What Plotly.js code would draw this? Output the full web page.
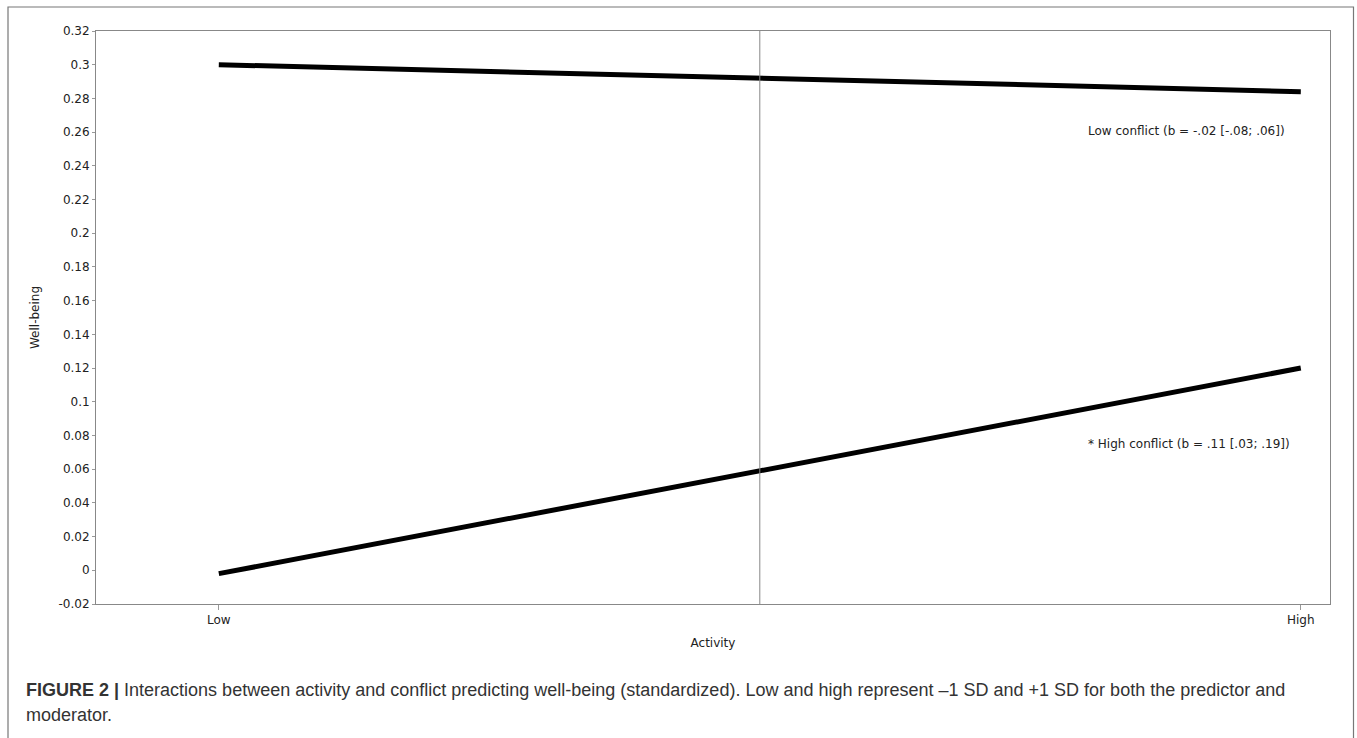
<!DOCTYPE html>
<html>
<head>
<meta charset="utf-8">
<script src="https://cdn.plot.ly/plotly-3.0.1.min.js"></script>
<style>
html,body{margin:0;padding:0;background:#fff;}
#chart{width:1357px;height:738px;}
</style>
</head>
<body>
<div id="chart"></div>
<script>
// Data
const activityLabels = ['Low', 'High'];
const activityX = [-1, 1];
const lowConflict = [0.300, 0.284];
const highConflict = [-0.002, 0.120];
const yTickVals = [-0.02, 0, 0.02, 0.04, 0.06, 0.08, 0.1, 0.12, 0.14, 0.16, 0.18, 0.2, 0.22, 0.24, 0.26, 0.28, 0.3, 0.32];
const yTickText = ['-0.02', '0', '0.02', '0.04', '0.06', '0.08', '0.1', '0.12', '0.14', '0.16', '0.18', '0.2', '0.22', '0.24', '0.26', '0.28', '0.3', '0.32'];
const lowLabel = 'Low conflict (b = -.02 [-.08; .06])';
const highLabel = '* High conflict (b = .11 [.03; .19])';
const captionLine1 = '<b>FIGURE 2 |</b> Interactions between activity and conflict predicting well-being (standardized). Low and high represent \u20131 SD and +1 SD for both the predictor and';
const captionLine2 = 'moderator.';

const tickFont = {family: 'DejaVu Sans', size: 12, color: '#222'};
const captionFont = {family: 'Liberation Sans', size: 18, color: '#333'};

const traces = [
  {x: activityX, y: lowConflict, type: 'scatter', mode: 'lines', name: 'Low conflict',
   line: {color: '#000', width: 5}, showlegend: false, hoverinfo: 'skip'},
  {x: activityX, y: highConflict, type: 'scatter', mode: 'lines', name: 'High conflict',
   line: {color: '#000', width: 5}, showlegend: false, hoverinfo: 'skip'}
];

const layout = {
  width: 1357, height: 738,
  margin: {l: 96, r: 27, t: 31, b: 134},
  paper_bgcolor: '#fff', plot_bgcolor: '#fff',
  xaxis: {
    range: [-1.227, 1.054],
    tickvals: activityX, ticktext: activityLabels,
    ticks: 'outside', ticklen: 5, tickcolor: '#999', tickwidth: 1,
    showgrid: false, zeroline: false,
    showline: true, linecolor: '#888', linewidth: 1, mirror: true,
    tickfont: tickFont,
    title: {text: 'Activity', font: tickFont, standoff: 12}
  },
  yaxis: {
    range: [-0.02, 0.32],
    tickvals: yTickVals, ticktext: yTickText,
    ticks: 'outside', ticklen: 3, tickcolor: '#999', tickwidth: 1,
    showgrid: false, zeroline: false,
    showline: true, linecolor: '#888', linewidth: 1, mirror: true,
    tickfont: tickFont,
    title: {text: 'Well-being', font: tickFont, standoff: 16}
  },
  shapes: [
    {type: 'line', xref: 'x', yref: 'paper', x0: 0, x1: 0, y0: 0, y1: 1,
     line: {color: '#888', width: 1}},
    {type: 'rect', xref: 'paper', yref: 'paper', layer: 'below',
     x0: -88/1234, x1: 1353.5/1234 - 96/1234, y0: -140/573, y1: 1 + 24/573,
     line: {color: '#777', width: 1.2}, fillcolor: 'rgba(0,0,0,0)'}
  ],
  annotations: [
    {x: 0.603, y: 0.2605, xref: 'x', yref: 'y', text: lowLabel, showarrow: false,
     xanchor: 'left', yanchor: 'middle', font: tickFont},
    {x: 0.603, y: 0.0748, xref: 'x', yref: 'y', text: highLabel, showarrow: false,
     xanchor: 'left', yanchor: 'middle', font: tickFont},
    {x: -72/1234, y: -86/573, xref: 'paper', yref: 'paper', text: captionLine1, showarrow: false,
     xanchor: 'left', yanchor: 'middle', align: 'left', font: captionFont},
    {x: -72/1234, y: -111/573, xref: 'paper', yref: 'paper', text: captionLine2, showarrow: false,
     xanchor: 'left', yanchor: 'middle', align: 'left', font: captionFont}
  ]
};

Plotly.newPlot('chart', traces, layout, {displayModeBar: false, staticPlot: true});
</script>
</body>
</html>
